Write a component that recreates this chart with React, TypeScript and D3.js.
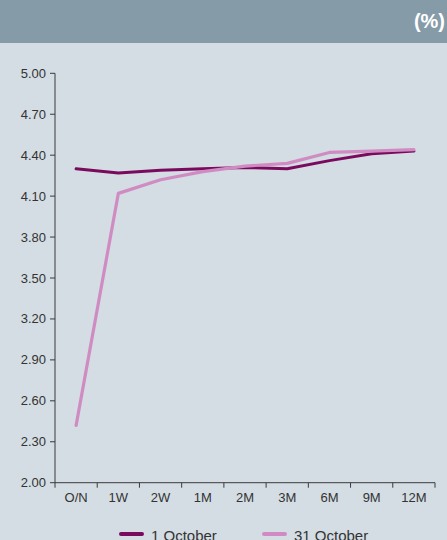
import React from "react";
import * as d3 from "d3";

const categories = ["O/N", "1W", "2W", "1M", "2M", "3M", "6M", "9M", "12M"];
const oct1 = [4.30, 4.27, 4.29, 4.30, 4.31, 4.30, 4.36, 4.41, 4.43];
const oct31 = [2.42, 4.12, 4.22, 4.28, 4.32, 4.34, 4.42, 4.43, 4.44];
const yTicks = [2.0, 2.3, 2.6, 2.9, 3.2, 3.5, 3.8, 4.1, 4.4, 4.7, 5.0];
const seriesNames = ["1 October", "31 October"];

const W = 447, H = 540;
const font = "'Liberation Sans', Arial, sans-serif";

export default function App() {
  const x = d3.scaleBand<string>().domain(categories).range([55, 435]);
  const y = d3.scaleLinear().domain([2, 5]).range([482.7, 73.3]);
  const line = d3.line<number>()
    .x((_, i) => (x(categories[i]) as number) + x.bandwidth() / 2)
    .y((d) => y(d));
  const axisColor = "#3a3a3a";
  const dark = "#7a0a5e";
  const light = "#d08cc2";
  return (
    <svg width={W} height={H} style={{ position: "absolute", left: 0, top: 0, display: "block" }}>
      <rect x={0} y={0} width={W} height={H} fill="#d3dde3" />
      <rect x={0} y={0} width={W} height={43} fill="#869ba8" />
      <text x={445} y={28} textAnchor="end" fill="#ffffff" fontFamily={font} fontWeight="bold" fontSize={20}>(%)</text>
      {/* y axis */}
      <line x1={55} x2={55} y1={y(5)} y2={y(2)} stroke={axisColor} strokeWidth={1} />
      {yTicks.map((t) => (
        <g key={t}>
          <line x1={50} x2={55} y1={y(t)} y2={y(t)} stroke={axisColor} />
          <text x={46} y={y(t) + 4.5} textAnchor="end" fontFamily={font} fontSize={13} fill="#333">{t.toFixed(2)}</text>
        </g>
      ))}
      {/* x axis */}
      <line x1={55} x2={435} y1={y(2)} y2={y(2)} stroke={axisColor} />
      {categories.map((c) => (
        <g key={c}>
          <line x1={x(c) as number} x2={x(c) as number} y1={y(2)} y2={y(2) + 5} stroke={axisColor} />
          <text x={(x(c) as number) + x.bandwidth() / 2} y={y(2) + 19} textAnchor="middle" fontFamily={font} fontSize={13} fill="#333">{c}</text>
        </g>
      ))}
      <line x1={435} x2={435} y1={y(2)} y2={y(2) + 5} stroke={axisColor} />
      <path d={line(oct1) || ""} fill="none" stroke={dark} strokeWidth={3} strokeLinecap="round" strokeLinejoin="round" />
      <path d={line(oct31) || ""} fill="none" stroke={light} strokeWidth={3.2} strokeLinecap="round" strokeLinejoin="round" />
      {/* legend */}
      <line x1={121} x2={142} y1={534} y2={534} stroke={dark} strokeWidth={4} strokeLinecap="round" />
      <text x={151} y={541} fontFamily={font} fontSize={15} fill="#333">{seriesNames[0]}</text>
      <line x1={264} x2={285} y1={534} y2={534} stroke={light} strokeWidth={4} strokeLinecap="round" />
      <text x={294} y={541} fontFamily={font} fontSize={15} fill="#333">{seriesNames[1]}</text>
    </svg>
  );
}
